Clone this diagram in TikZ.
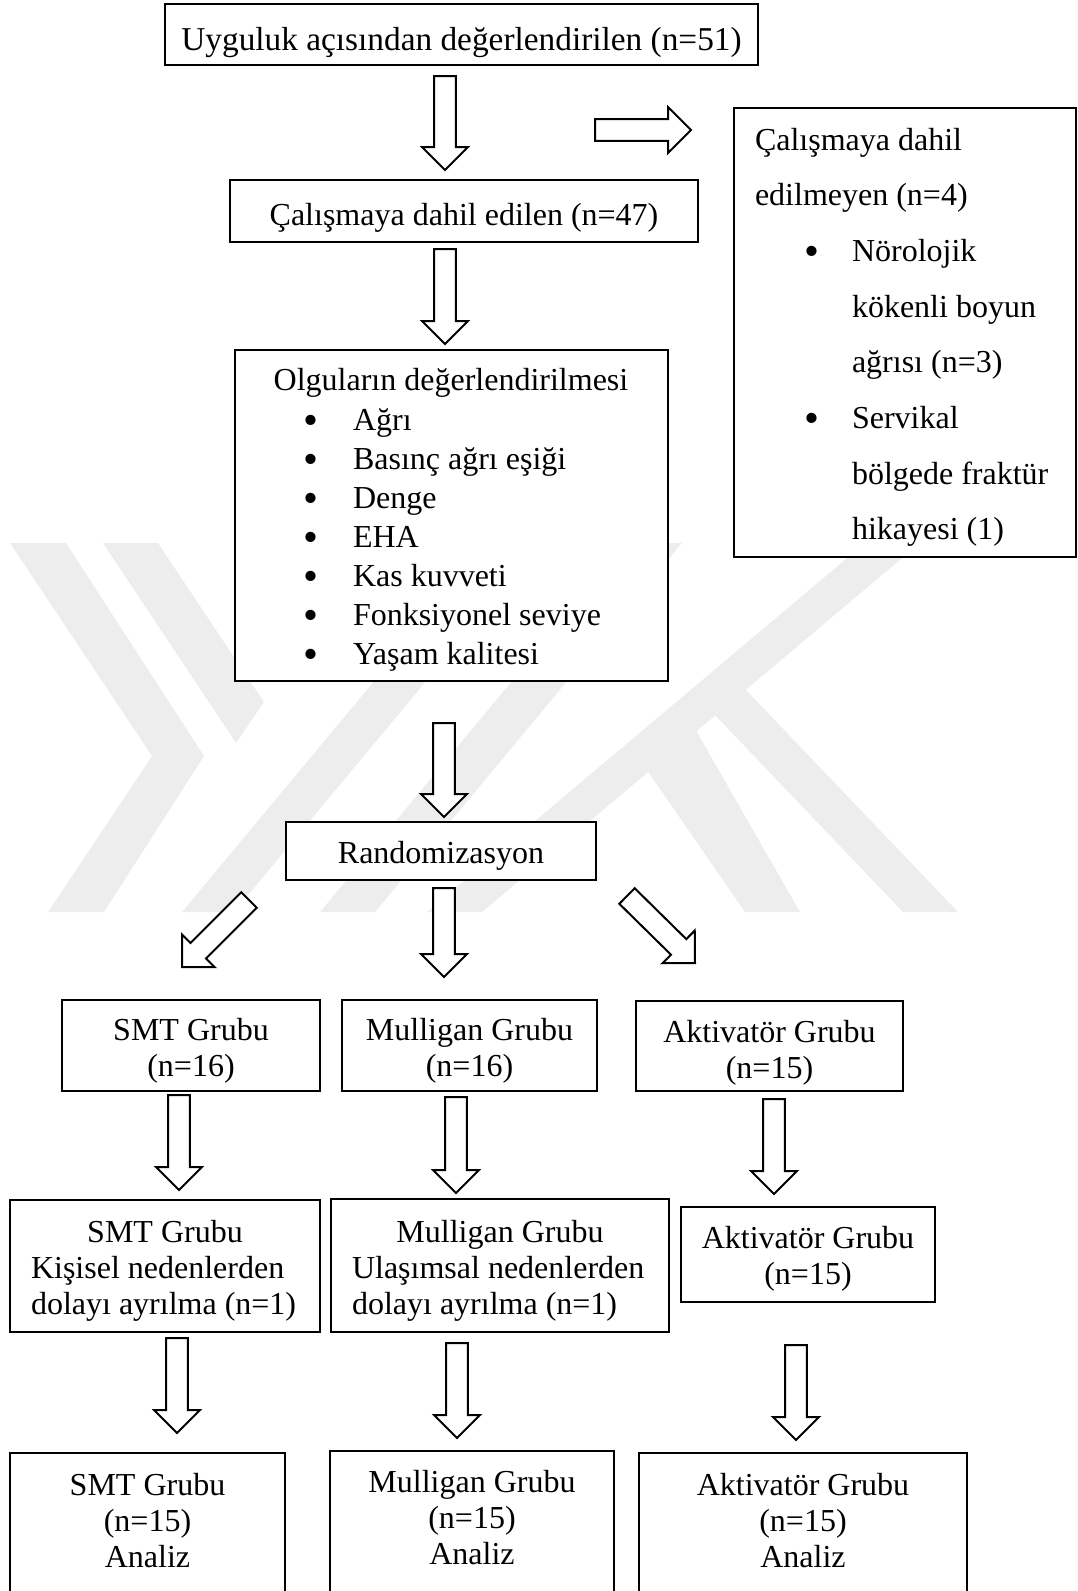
\documentclass[tikz,border=0pt]{standalone}
\usepackage{fontspec}
\setmainfont{Liberation Serif}
\usetikzlibrary{calc,fit}

\tikzset{
  box/.style={draw, line width=0.8pt, fill=white, inner sep=0pt, outer sep=0pt},
  txt/.style={inner sep=0pt, outer sep=0pt, font=\fontsize{12pt}{14pt}\selectfont},
  bul/.style={inner sep=0pt, outer sep=0pt, font=\fontsize{16pt}{16pt}\selectfont, anchor=base},
  blockarr/.style={draw, line width=0.75pt, fill=white, line join=miter},
  wm/.style={fill=black!7, draw=none},
}
\def\arrsw{4.1pt}
\def\arrhw{8.6pt}
\def\arrhl{8.6}
\newcommand{\blockarrow}[2]{%
  \path[blockarr] let \p1=(#1), \p2=(#2),
    \n1={atan2(\y2-\y1,\x2-\x1)},
    \n2={veclen(\x2-\x1,\y2-\y1)-\arrhl} in
    ($(\p1)+(\n1+90:\arrsw)$) --
    ($(\p1)+(\n1:{\n2*1pt})+(\n1+90:\arrsw)$) --
    ($(\p1)+(\n1:{\n2*1pt})+(\n1+90:\arrhw)$) --
    (\p2) --
    ($(\p1)+(\n1:{\n2*1pt})+(\n1-90:\arrhw)$) --
    ($(\p1)+(\n1:{\n2*1pt})+(\n1-90:\arrsw)$) --
    ($(\p1)+(\n1-90:\arrsw)$) -- cycle;}

\begin{document}
\begin{tikzpicture}[x=0.375pt,y=-0.375pt]
\path[use as bounding box] (0,0) rectangle (1078,1591);
\clip (0,0) rectangle (1078,1591);

% faint background watermark
\begin{scope}
  \clip (0,543) rectangle (1078,912);
  \fill[wm] (10,543) -- (66,543) -- (204,756) -- (104,912) -- (48,912) -- (152,756) -- cycle;
  \fill[wm] (103,543) -- (158,543) -- (264,702) -- (236,743) -- cycle;
  \fill[wm] (182,912) -- (234,912) -- (541,543) -- (489,543) -- cycle;
  \fill[wm] (320,912) -- (375,912) -- (682,543) -- (627,543) -- cycle;
  \fill[wm] (427,912) -- (482,912) -- (920,543) -- (865,543) -- cycle;
  \fill[wm] (691,690) -- (746,690) -- (958,912) -- (903,912) -- cycle;
  \fill[wm] (640,760) -- (690,720) -- (800,912) -- (745,912) -- cycle;
\end{scope}

% ---- top part
\node[box, fit={(165,4) (758,65)}] (b1) {};
\node[txt, anchor=base, font=\fontsize{12.5pt}{14pt}\selectfont] (b1t) at (461.5,50) {Uyguluk açısından değerlendirilen (n=51)};

\node[box, fit={(230,180) (698,242)}] (b2) {};
\node[txt, anchor=base] (b2t) at (464,225) {Çalışmaya dahil edilen (n=47)};

\node[box, fit={(734,108) (1076,557)}] (ex) {};
\node[txt, anchor=base west] (ex1) at (755,150) {Çalışmaya dahil};
\node[txt, anchor=base west] (ex2) at (755,205.7) {edilmeyen (n=4)};
\node[bul] (exb1) at (812,265.4) {•};
\node[txt, anchor=base west] (ex3) at (852,261.4) {Nörolojik};
\node[txt, anchor=base west] (ex4) at (852,317.1) {kökenli boyun};
\node[txt, anchor=base west] (ex5) at (852,372.8) {ağrısı (n=3)};
\node[bul] (exb2) at (812,432.5) {•};
\node[txt, anchor=base west] (ex6) at (852,428.5) {Servikal};
\node[txt, anchor=base west] (ex7) at (852,484.2) {bölgede fraktür};
\node[txt, anchor=base west] (ex8) at (852,539.9) {hikayesi (1)};

\node[box, fit={(235,350) (668,681)}] (b3) {};
\node[txt, anchor=base] (b3t) at (451,390) {Olguların değerlendirilmesi};
\foreach \y/\t [count=\i] in {430/Ağrı, 469/Basınç ağrı eşiği, 508/Denge, 547/EHA,
   586/Kas kuvveti, 625/Fonksiyonel seviye, 664/Yaşam kalitesi}{
  \node[bul] (b3b\i) at (311,\y+4) {•};
  \node[txt, anchor=base west] (b3i\i) at (353,\y) {\t};
}

\node[box, fit={(286,822) (596,880)}] (rnd) {};
\node[txt, anchor=base] (rndt) at (441,863) {Randomizasyon};

% ---- level 1
\node[box, fit={(62,1000) (320,1091)}] (s1) {};
\node[txt, anchor=base] (s1a) at (191,1040) {SMT Grubu};
\node[txt, anchor=base] (s1b) at (191,1076) {(n=16)};
\node[box, fit={(342,1000) (597,1091)}] (m1) {};
\node[txt, anchor=base] (m1a) at (469.5,1040) {Mulligan Grubu};
\node[txt, anchor=base] (m1b) at (469.5,1076) {(n=16)};
\node[box, fit={(636,1001) (903,1091)}] (k1) {};
\node[txt, anchor=base] (k1a) at (769.5,1042) {Aktivatör Grubu};
\node[txt, anchor=base] (k1b) at (769.5,1078) {(n=15)};

% ---- level 2
\node[box, fit={(10,1200) (320,1332)}] (s2) {};
\node[txt, anchor=base] (s2a) at (165,1242) {SMT Grubu};
\node[txt, anchor=base west] (s2b) at (31,1278) {Kişisel nedenlerden};
\node[txt, anchor=base west] (s2c) at (31,1314) {dolayı ayrılma (n=1)};
\node[box, fit={(331,1199) (669,1332)}] (m2) {};
\node[txt, anchor=base] (m2a) at (500,1242) {Mulligan Grubu};
\node[txt, anchor=base west] (m2b) at (352,1278) {Ulaşımsal nedenlerden};
\node[txt, anchor=base west] (m2c) at (352,1314) {dolayı ayrılma (n=1)};
\node[box, fit={(681,1207) (935,1302)}] (k2) {};
\node[txt, anchor=base] (k2a) at (808,1248) {Aktivatör Grubu};
\node[txt, anchor=base] (k2b) at (808,1284) {(n=15)};

% ---- level 3 (cut by the lower edge)
\node[box, fit={(10,1453) (285,1650)}] (s3) {};
\node[txt, anchor=base] (s3a) at (147.5,1495) {SMT Grubu};
\node[txt, anchor=base] (s3b) at (147.5,1531) {(n=15)};
\node[txt, anchor=base] (s3c) at (147.5,1567) {Analiz};
\node[box, fit={(330,1451) (614,1650)}] (m3) {};
\node[txt, anchor=base] (m3a) at (472,1492) {Mulligan Grubu};
\node[txt, anchor=base] (m3b) at (472,1528) {(n=15)};
\node[txt, anchor=base] (m3c) at (472,1564) {Analiz};
\node[box, fit={(639,1453) (967,1650)}] (k3) {};
\node[txt, anchor=base] (k3a) at (803,1495) {Aktivatör Grubu};
\node[txt, anchor=base] (k3b) at (803,1531) {(n=15)};
\node[txt, anchor=base] (k3c) at (803,1567) {Analiz};

% ---- arrow end points
\coordinate (a1s) at (445,76);   \coordinate (a1e) at (445,170);
\coordinate (axs) at (595,130);  \coordinate (axe) at (691,130);
\coordinate (a2s) at (445,249);  \coordinate (a2e) at (445,344);
\coordinate (a3s) at (444,723);  \coordinate (a3e) at (444,817);
\coordinate (a4s) at (444,888);  \coordinate (a4e) at (444,977);
\coordinate (dls) at (249,900);  \coordinate (dle) at (182,967);
\coordinate (drs) at (627,896);  \coordinate (dre) at (695,963);
\coordinate (s12s) at (179,1095); \coordinate (s12e) at (179,1190);
\coordinate (m12s) at (456,1097); \coordinate (m12e) at (456,1193);
\coordinate (k12s) at (774,1099); \coordinate (k12e) at (774,1194);
\coordinate (s23s) at (177,1338); \coordinate (s23e) at (177,1433);
\coordinate (m23s) at (457,1343); \coordinate (m23e) at (457,1438);
\coordinate (k23s) at (796,1345); \coordinate (k23e) at (796,1440);

\blockarrow{a1s}{a1e}
\blockarrow{axs}{axe}
\blockarrow{a2s}{a2e}
\blockarrow{a3s}{a3e}
\blockarrow{a4s}{a4e}
\blockarrow{dls}{dle}
\blockarrow{drs}{dre}
\blockarrow{s12s}{s12e}
\blockarrow{m12s}{m12e}
\blockarrow{k12s}{k12e}
\blockarrow{s23s}{s23e}
\blockarrow{m23s}{m23e}
\blockarrow{k23s}{k23e}
\end{tikzpicture}
\end{document}
